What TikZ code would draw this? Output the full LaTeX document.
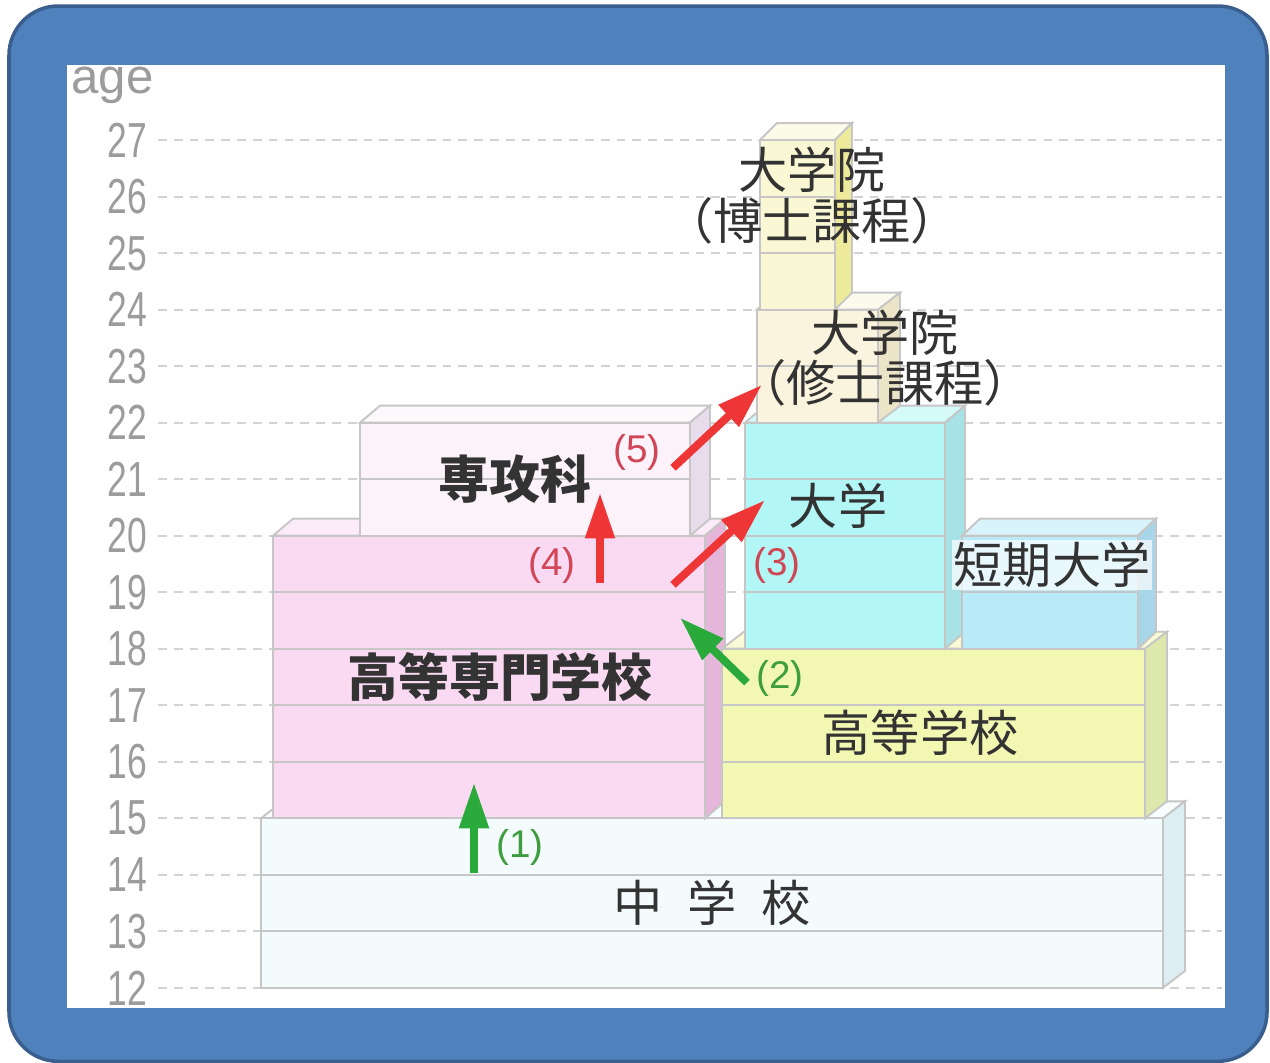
\documentclass[tikz,border=0pt]{standalone}
\usepackage{graphicx}
\usepackage{fontspec}
\setsansfont{Liberation Sans}
\newfontfamily\jpfont{Noto Sans CJK JP}
\usetikzlibrary{calc}
\usetikzlibrary{arrows.meta}
\usetikzlibrary{positioning}

\definecolor{framebl}{HTML}{4F81BD}
\definecolor{framedk}{HTML}{3A5F8E}
\definecolor{gridgr}{HTML}{D2D2D2}
\definecolor{agegr}{HTML}{9C9C9C}
\definecolor{edgegr}{HTML}{C6C6C6}
\definecolor{chuF}{HTML}{F3FBFD}
\definecolor{chuS}{HTML}{DDEEF2}
\definecolor{kosenF}{HTML}{FADAF2}
\definecolor{kosenS}{HTML}{E6B6DA}
\definecolor{senkoF}{HTML}{FCF2FA}
\definecolor{senkoS}{HTML}{E8DCEC}
\definecolor{koukouF}{HTML}{F2F8B2}
\definecolor{koukouS}{HTML}{DCE8AC}
\definecolor{daiF}{HTML}{B2F6F6}
\definecolor{daiS}{HTML}{A6E2E6}
\definecolor{tandaiF}{HTML}{B8EAF8}
\definecolor{tandaiS}{HTML}{A6D6E8}
\definecolor{shushiF}{HTML}{FAF4DE}
\definecolor{shushiS}{HTML}{ECE4C6}
\definecolor{hakushiF}{HTML}{FAF8D4}
\definecolor{hakushiS}{HTML}{EEEA9C}
\definecolor{arrred}{HTML}{EE3636}
\definecolor{arrgreen}{HTML}{2AAA3A}
\definecolor{numred}{HTML}{D04656}
\definecolor{numgreen}{HTML}{3E9E3E}

\begin{document}
\begin{tikzpicture}[x=0.02cm, y=1.1306cm,
  gridline/.style={draw=gridgr, line width=1.1pt, dash pattern=on 5pt off 4pt},
  agelabel/.style={font=\sffamily\fontsize{28}{30}\selectfont, text=agegr, anchor=east, inner sep=3pt, inner xsep=6pt},
  blockedge/.style={draw=edgegr, line width=1.1pt},
  jplabel/.style={font=\jpfont\fontsize{28}{32}\selectfont, text=black!80, inner sep=1pt},
  jpbold/.style={jplabel, font=\jpfont\bfseries\fontsize{29}{32}\selectfont},
  numlabel/.style={font=\sffamily\fontsize{22}{24}\selectfont, inner sep=1pt},
  fatarrow/.style={-{Triangle[length=26pt, width=16pt]}, line width=4.5pt},
]
  \useasboundingbox (0,10.673) rectangle (1270,29.478);
  % 外枠
  \draw[draw=framedk, line width=2pt, fill=framebl, rounded corners=28pt] (9,10.70) rectangle (1267,29.371);
  \fill[white] (67,11.646) rectangle (1225,28.327);
  % 年齢の目盛りと点線
  \node[agelabel, anchor=west, inner xsep=3pt] (agetitle) at (66,27.97) {age};
  \foreach \a in {12,...,27}
  {
    \node[agelabel] (age\a) at (158,\a) {\scalebox{0.72}[1]{\a}};
    \coordinate (gridend\a) at (1222,\a);
    \draw[gridline] (age\a.east) -- (gridend\a);
  }
  % 各学校のブロック（左端/右端/下/上/奥行き/正面色/側面色）
  \foreach \xl/\xr/\ab/\at/\dx/\cf/\cs in {
    261/1163/12/15/22/chuF/chuS,
    273/705/15/20/20/kosenF/kosenS,
    360/690/20/22/20/senkoF/senkoS,
    722/1145/15/18/22/koukouF/koukouS,
    745/945/18/22/20/daiF/daiS,
    962/1138/18/20/18/tandaiF/tandaiS,
    757/878/22/24/22/shushiF/shushiS,
    760/835/24/27/17/hakushiF/hakushiS}
  {
    \draw[blockedge, fill=\cf!55!white] (\xl,\at) -- (\xl+\dx,\at+0.3) -- (\xr+\dx,\at+0.3) -- (\xr,\at) -- cycle;% 上面
    \draw[blockedge, fill=\cs] (\xr,\ab) -- (\xr+\dx,\ab+0.3) -- (\xr+\dx,\at+0.3) -- (\xr,\at) -- cycle;% 側面
    \draw[blockedge, fill=\cf] (\xl,\ab) rectangle (\xr,\at);% 正面
    \foreach \k in {\ab,...,\at}
    {
      \draw[blockedge] (\xl,\k) -- (\xr,\k);
    }
  }
  % 学校名
  \node[jplabel] (chu) at (712,13.5) {中\hspace{0.5em}学\hspace{0.5em}校};
  \node[jpbold] (kosen) at (500,17.5) {高等専門学校};
  \node[jpbold] (senko) at (515,21.0) {専攻科};
  \node[jplabel] (koukou) at (920,16.51) {高等学校};
  \node[jplabel] (dai) at (838,20.53) {大学};
  \node[jplabel, fill=white, fill opacity=0.7, text opacity=1] (tandai) at (1052,19.48) {短期大学};
  \node[jplabel] (shushi) at (885,23.59) {大学院};
  \node[jplabel, below=0pt of shushi] (shushisub) {\kern-0.45em（修士課程）\kern-0.45em};
  \node[jplabel] (hakushi) at (812,26.47) {大学院};
  \node[jplabel, below=0pt of hakushi] (hakushisub) {\kern-0.45em（博士課程）\kern-0.45em};
  % 進路の矢印
  \coordinate (a1s) at (474,14.03);
  \coordinate (a1e) at (474,15.63);
  \coordinate (a2s) at (747,17.40);
  \coordinate (a2e) at (680,18.55);
  \coordinate (a3s) at (673,19.13);
  \coordinate (a3e) at (765,20.63);
  \coordinate (a4s) at (600,19.16);
  \coordinate (a4e) at (600,20.76);
  \coordinate (a5s) at (673,21.20);
  \coordinate (a5e) at (762,22.67);
  \draw[fatarrow, arrgreen] (a1s) -- (a1e);
  \draw[fatarrow, arrgreen] (a2s) -- (a2e);
  \draw[fatarrow, arrred] (a3s) -- (a3e);
  \draw[fatarrow, arrred] (a4s) -- (a4e);
  \draw[fatarrow, arrred] (a5s) -- (a5e);
  % 番号
  \node[numlabel, text=numgreen] (n1) at (520,14.48) {(1)};
  \node[numlabel, text=numgreen] (n2) at (780,17.48) {(2)};
  \node[numlabel, text=numred] (n3) at (777,19.47) {(3)};
  \node[numlabel, text=numred] (n4) at (552,19.47) {(4)};
  \node[numlabel, text=numred] (n5) at (637,21.48) {(5)};
\end{tikzpicture}
\end{document}
